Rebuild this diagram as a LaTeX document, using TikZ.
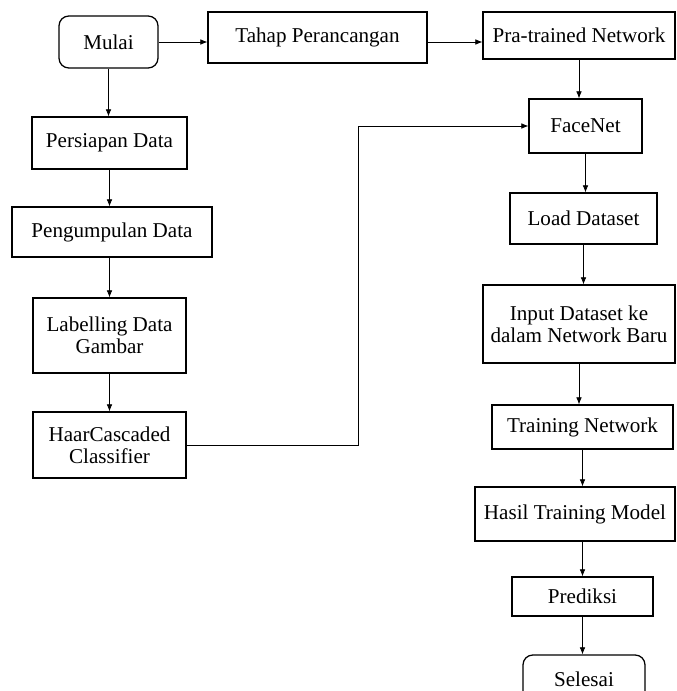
\documentclass[tikz,border=0pt]{standalone}
\usepackage{fontspec}
\setmainfont{Liberation Serif}
\usetikzlibrary{arrows.meta}

\newcommand{\pxu}{0.025cm}

\begin{document}
\begin{tikzpicture}
          [x=\pxu,y=-\pxu,
           box/.style={draw,line width=0.9pt,inner sep=2pt,align=center,font=\fontsize{15}{15.5}\selectfont},
           term/.style={box,rounded corners=7pt},
           arr/.style={-{Latex[length=5pt,width=4pt]},line width=0.5pt}]

          \useasboundingbox (0,0) rectangle (677,691);

          \node[term,minimum width=99*\pxu,minimum height=52*\pxu] (mulai) at (108.5,42) {Mulai};
          \node[box,minimum width=219*\pxu,minimum height=51*\pxu] (tahap) at (317.5,37.5) {Tahap Perancangan};
          \node[box,minimum width=192*\pxu,minimum height=47*\pxu] (pra) at (579,35.5) {Pra-trained Network};

          \node[box,minimum width=155*\pxu,minimum height=52*\pxu] (persiapan) at (109.5,143) {Persiapan Data};
          \node[box,minimum width=200*\pxu,minimum height=50*\pxu] (kumpul) at (112,232) {Pengumpulan Data};
          \node[box,minimum width=153*\pxu,minimum height=75*\pxu] (label) at (109.5,335.5) {Labelling Data\\Gambar};
          \node[box,minimum width=153*\pxu,minimum height=66*\pxu] (haar) at (109.5,445) {HaarCascaded\\Classifier};

          \node[box,minimum width=113*\pxu,minimum height=54*\pxu] (facenet) at (585.5,126) {FaceNet};
          \node[box,minimum width=147*\pxu,minimum height=51*\pxu] (load) at (583.5,218.5) {Load Dataset};
          \node[box,minimum width=192*\pxu,minimum height=78*\pxu] (input) at (579,324) {Input Dataset ke\\dalam Network Baru};
          \node[box,minimum width=181*\pxu,minimum height=44*\pxu] (train) at (582.5,427) {Training Network};
          \node[box,minimum width=200*\pxu,minimum height=54*\pxu] (hasil) at (575,514) {Hasil Training Model};
          \node[box,minimum width=141*\pxu,minimum height=39*\pxu] (prediksi) at (582.5,596.5) {Prediksi};
          \node[term,minimum width=122*\pxu,minimum height=48*\pxu] (selesai) at (584,679) {Selesai};

          \coordinate (belok) at (358,126);

          \draw[arr] (mulai.east) -- (tahap.west |- mulai.east);
          \draw[arr] (tahap.east |- mulai.east) -- (pra.west |- mulai.east);
          \draw[arr] (mulai.south) -- (mulai.south |- persiapan.north);
          \draw[arr] (persiapan.south) -- (persiapan.south |- kumpul.north);
          \draw[arr] (label.north |- kumpul.south) -- (label.north);
          \draw[arr] (label.south) -- (haar.north);
          \draw[arr] (haar.east) -| (belok) |- (facenet.west);
          \draw[arr] (pra.south) -- (pra.south |- facenet.north);
          \draw[arr] (facenet.south) -- (facenet.south |- load.north);
          \draw[arr] (load.south) -- (load.south |- input.north);
          \draw[arr] (input.south) -- (input.south |- train.north);
          \draw[arr] (train.south) -- (train.south |- hasil.north);
          \draw[arr] (prediksi.north |- hasil.south) -- (prediksi.north);
          \draw[arr] (prediksi.south) -- (prediksi.south |- selesai.north);
        \end{tikzpicture}
\end{document}
